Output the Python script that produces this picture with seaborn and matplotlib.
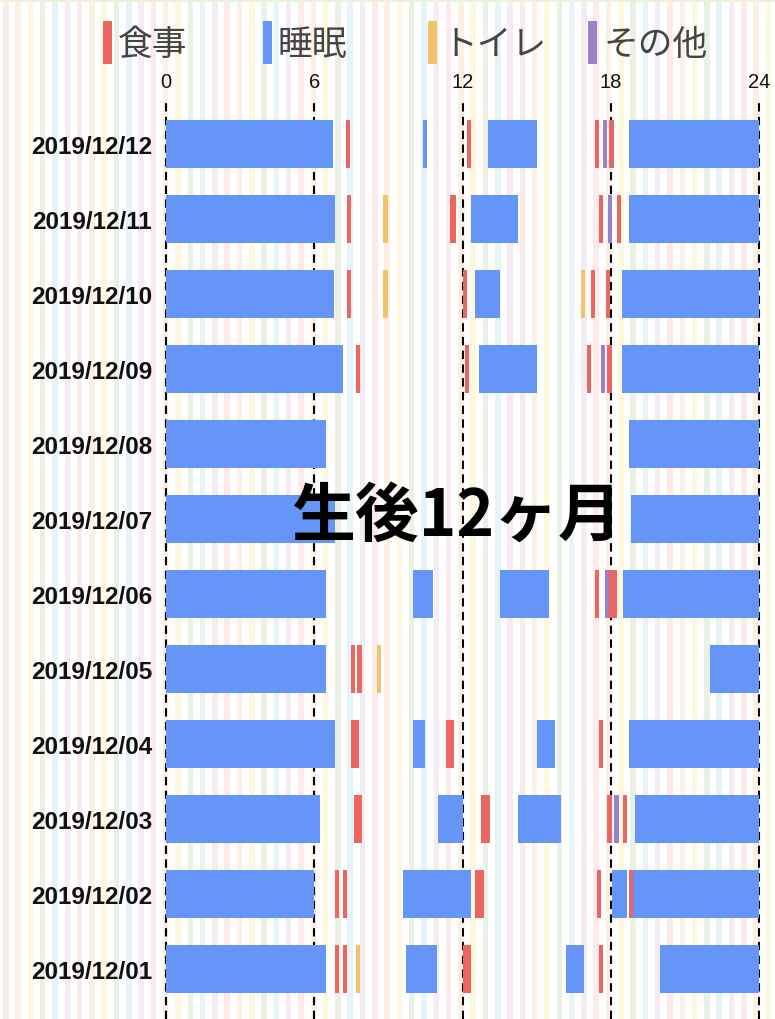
import numpy as np
import pandas as pd
import matplotlib
matplotlib.use('Agg')
import matplotlib.pyplot as plt
from matplotlib.patches import Rectangle
import seaborn as sns

# %% data (hours of day)
dates = ['2019/12/12', '2019/12/11', '2019/12/10', '2019/12/09', '2019/12/08', '2019/12/07',
         '2019/12/06', '2019/12/05', '2019/12/04', '2019/12/03', '2019/12/02', '2019/12/01']
hour_ticks = [0, 6, 12, 18, 24]
kinds = ['食事', '睡眠', 'トイレ', 'その他']

sleep = [
    ('2019/12/12', 0, 6.75), ('2019/12/12', 10.42, 10.55), ('2019/12/12', 13.02, 15.0), ('2019/12/12', 18.75, 24),
    ('2019/12/11', 0, 6.83), ('2019/12/11', 12.35, 14.25), ('2019/12/11', 18.75, 24),
    ('2019/12/10', 0, 6.79), ('2019/12/10', 12.51, 13.52), ('2019/12/10', 18.45, 24),
    ('2019/12/09', 0, 7.15), ('2019/12/09', 12.68, 15.0), ('2019/12/09', 18.45, 24),
    ('2019/12/08', 0, 6.47), ('2019/12/08', 18.75, 24),
    ('2019/12/07', 0, 6.84), ('2019/12/07', 18.83, 24),
    ('2019/12/06', 0, 6.47), ('2019/12/06', 10.01, 10.82), ('2019/12/06', 13.52, 15.5), ('2019/12/06', 18.5, 24),
    ('2019/12/05', 0, 6.47), ('2019/12/05', 22.0, 24),
    ('2019/12/04', 0, 6.83), ('2019/12/04', 10.01, 10.49), ('2019/12/04', 15.0, 15.76), ('2019/12/04', 18.75, 24),
    ('2019/12/03', 0, 6.23), ('2019/12/03', 11.01, 12.01), ('2019/12/03', 14.25, 16.0), ('2019/12/03', 19.0, 24),
    ('2019/12/02', 0, 6.0), ('2019/12/02', 9.61, 12.35), ('2019/12/02', 18.07, 18.66), ('2019/12/02', 18.91, 24),
    ('2019/12/01', 0, 6.47), ('2019/12/01', 9.7, 10.98), ('2019/12/01', 16.18, 16.92), ('2019/12/01', 20.01, 24),
]
meal = [
    ('2019/12/12', 7.29, 7.45), ('2019/12/12', 12.17, 12.33), ('2019/12/12', 17.37, 17.53), ('2019/12/12', 17.94, 18.14),
    ('2019/12/11', 7.34, 7.5), ('2019/12/11', 11.5, 11.74), ('2019/12/11', 17.53, 17.69), ('2019/12/11', 18.25, 18.42),
    ('2019/12/10', 7.34, 7.5), ('2019/12/10', 12.01, 12.17), ('2019/12/10', 17.19, 17.37), ('2019/12/10', 17.81, 17.98),
    ('2019/12/09', 7.68, 7.85), ('2019/12/09', 12.1, 12.27), ('2019/12/09', 17.03, 17.19), ('2019/12/09', 17.85, 18.06),
    ('2019/12/06', 17.37, 17.53), ('2019/12/06', 17.94, 18.25),
    ('2019/12/05', 7.5, 7.66), ('2019/12/05', 7.75, 7.92),
    ('2019/12/04', 7.5, 7.83), ('2019/12/04', 11.34, 11.66), ('2019/12/04', 17.53, 17.69),
    ('2019/12/03', 7.6, 7.92), ('2019/12/03', 12.76, 13.12), ('2019/12/03', 17.85, 18.06), ('2019/12/03', 18.5, 18.66),
    ('2019/12/02', 6.84, 7.0), ('2019/12/02', 7.18, 7.34), ('2019/12/02', 12.51, 12.85), ('2019/12/02', 17.45, 17.61),
    ('2019/12/02', 18.75, 18.91),
    ('2019/12/01', 6.84, 7.0), ('2019/12/01', 7.18, 7.34), ('2019/12/01', 12.01, 12.35), ('2019/12/01', 17.53, 17.69),
]
toilet = [
    ('2019/12/11', 8.8, 8.97),
    ('2019/12/10', 8.8, 8.97), ('2019/12/10', 16.8, 16.96),
    ('2019/12/05', 8.53, 8.69),
    ('2019/12/01', 7.68, 7.84),
]
other = [
    ('2019/12/12', 17.69, 17.84),
    ('2019/12/11', 17.9, 18.06),
    ('2019/12/09', 17.61, 17.77),
    ('2019/12/06', 17.77, 17.94),
    ('2019/12/03', 18.15, 18.33),
]

colors = {'食事': '#ec6560', '睡眠': '#6495f7', 'トイレ': '#f1c36a', 'その他': '#9a82c8'}

# %% one long table
frames = []
for kind, rows in [('睡眠', sleep), ('食事', meal), ('トイレ', toilet), ('その他', other)]:
    d = pd.DataFrame(rows, columns=['date', 'start', 'end'])
    d['kind'] = kind
    frames.append(d)
df = pd.concat(frames, ignore_index=True)
df['row'] = df['date'].map({d: i for i, d in enumerate(dates)})

# %% style
sns.set_theme(style='white', rc={'axes.facecolor': 'none', 'figure.facecolor': 'white'})
plt.rcParams['font.family'] = ['Noto Sans CJK JP', 'DejaVu Sans']

W, H = 775, 1020
fig = plt.figure(figsize=(W / 100, H / 100), dpi=100)

# pastel stripe background
bg = fig.add_axes([0, 0, 1, 1], zorder=-5)
bg.set_xlim(0, W)
bg.set_ylim(H, 0)
bg.axis('off')
stripe_cols = ['#fce6e6', '#fcede0', '#fcf6d8', '#e5efe0', '#e2f1f9', '#f4e8f1']
for i, x in enumerate(np.arange(3, W, 12.3)):
    bg.axvspan(x, x + 5.5, color=stripe_cols[i % len(stripe_cols)], lw=0, alpha=0.85)
bg.axhspan(0, 3, color='#e8f3dc', lw=0)

# %% main timeline
ax = fig.add_axes([166 / W, 0, 593 / W, 920 / H])
for kind in ['睡眠', '食事', 'トイレ', 'その他']:
    sub = df[df['kind'] == kind]
    ax.barh(sub['row'], sub['end'] - sub['start'], left=sub['start'], height=0.64,
            color=colors[kind], edgecolor='none', zorder=3)

for h in hour_ticks:
    ax.axvline(h, color='black', lw=1.5, ls=(0, (4, 2.6)), zorder=1, clip_on=False)

ax.set_xlim(0, 24)
ax.set_ylim(11.67, -0.6)
ax.xaxis.tick_top()
ax.set_xticks(hour_ticks)
ax.set_xticklabels([str(h) for h in hour_ticks], fontfamily='Liberation Sans', fontsize=14.5, color='#111')
ax.set_yticks(range(len(dates)))
ax.set_yticklabels(dates, fontfamily='Liberation Sans', fontweight='bold', fontsize=17.5, color='#111')
ax.tick_params(axis='x', length=0, pad=6)
ax.tick_params(axis='y', length=0, pad=10)
ax.set_xlabel('')
ax.set_ylabel('')
sns.despine(ax=ax, left=True, bottom=True, top=True, right=True)

# %% legend along the top
leg_bar_x = [103, 263, 428, 588]
for kind, x in zip(kinds, leg_bar_x):
    fig.add_artist(Rectangle((x / W, 1 - 65 / H), 9 / W, 43 / H, transform=fig.transFigure,
                             color=colors[kind], lw=0))
    fig.text((x + 15) / W, 1 - 45 / H, kind, fontsize=25, color='#444', va='center', ha='left')

# big overlay text
fig.text(457 / W, 1 - 517 / H, '生後12ヶ月', fontsize=46, fontweight='bold', color='black',
         ha='center', va='center', zorder=10)

fig.savefig('out.png', dpi=100)
